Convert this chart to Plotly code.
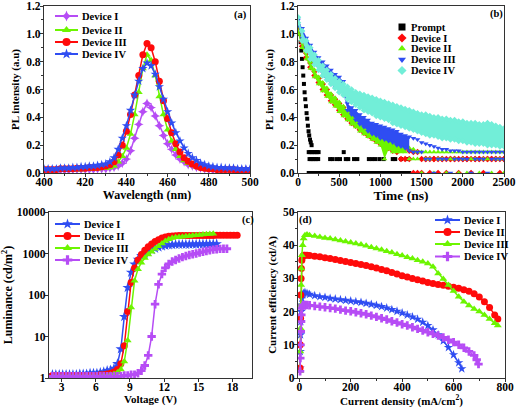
import plotly.graph_objects as go

# ---------------- data ----------------
# (a) PL spectra
wl = list(range(400, 501, 2))
pl_dev1 = [0.02,0.02,0.02,0.02,0.02,0.02,0.02,0.025,0.025,0.025,0.025,0.025,0.025,0.03,0.03,
           0.03,0.035,0.04,0.05,0.07,0.1,0.16,0.25,0.35,0.44,0.5,0.47,0.41,0.34,0.27,0.21,0.17,0.13,0.1,0.08,0.06,0.05,0.04,0.035,0.03,0.025,
           0.02,0.02,0.02,0.02,0.02,0.02,0.02,0.02,0.02,0.02]
pl_dev2 = [0.02,0.02,0.02,0.02,0.02,0.025,0.025,0.025,0.025,0.025,0.03,0.03,0.03,0.03,0.035,
           0.035,0.04,0.05,0.08,0.12,0.18,0.28,0.42,0.58,0.75,0.85,0.81,0.7,0.55,0.42,0.31,0.23,0.17,0.12,0.09,0.07,0.055,0.045,0.035,0.03,0.025,
           0.02,0.02,0.02,0.02,0.02,0.02,0.02,0.02,0.02,0.02]
pl_dev3 = [0.025,0.025,0.025,0.025,0.03,0.03,0.03,0.03,0.035,0.035,0.035,0.04,0.04,0.04,0.045,
           0.05,0.06,0.08,0.13,0.2,0.3,0.42,0.56,0.7,0.85,0.93,0.9,0.8,0.66,0.52,0.39,0.29,0.21,0.15,0.11,0.085,0.065,0.05,0.04,0.035,0.03,
           0.03,0.025,0.025,0.025,0.025,0.025,0.02,0.02,0.02,0.02]
pl_dev4 = [0.03,0.03,0.03,0.03,0.035,0.035,0.035,0.04,0.04,0.045,0.045,0.05,0.05,0.055,0.06,
           0.065,0.08,0.11,0.17,0.25,0.34,0.45,0.56,0.66,0.75,0.79,0.77,0.71,0.62,0.53,0.44,0.36,0.29,0.23,0.18,0.14,0.11,0.09,0.07,0.06,0.05,
           0.045,0.04,0.04,0.035,0.035,0.035,0.03,0.03,0.03,0.03]

# (b) PL decay
prompt_t = [24,32,40,48,56,64,72,80,88,96,104,112,120,128,136,146,155,165]
prompt_v = [1.0,0.94,0.88,0.82,0.76,0.7,0.64,0.58,0.53,0.48,0.43,0.39,0.34,0.3,0.27,0.24,0.22,0.2]
prompt_t15 = [130,150,170,190,210,230,250,555]
prompt_t10 = [140,160,180,200,220,245,390,420,470,510,580,610,680,720,860,900,940,990,1040,1150,1180,1250,1310]
prompt_t00 = list(range(130, 1351, 20))

t_dec = list(range(0, 2501, 50))
d1_hi = [1.04,0.94,0.86,0.79,0.73,0.68,0.64,0.6,0.56,0.53,0.5,0.47,0.44,0.42,0.4,0.38,0.36,0.34,0.32,0.3,
         0.29,0.27,0.25,0.2,0.2,0.19,0.18,0.16,0.15,0.15,0.1,0.1,0.1,0.1,0.1,0.1,0.1,0.1,0.1,0.1,
         0.1,0.1,0.1,0.1,0.1,0.1,0.1,0.1,0.1,0.1,0.1]
d1_lo = [1.01,0.91,0.83,0.76,0.7,0.65,0.6,0.56,0.52,0.49,0.45,0.42,0.39,0.36,0.34,0.31,0.29,0.27,0.25,0.23,
         0.21,0.19,0.18,0.16,0.15,0.1,0.1,0.1,0.0,0.0,0.0,0.1,0.0,0.1,0.0,0.1,0.0,0.1,0.1,0.0,
         0.1,0.1,0.0,0.1,0.1,0.0,0.1,0.1,0.1,0.0,0.1]
d2_hi = [1.05,0.95,0.87,0.8,0.74,0.69,0.65,0.61,0.57,0.54,0.51,0.48,0.45,0.43,0.41,0.39,0.37,0.35,0.33,0.31,
         0.3,0.28,0.26,0.25,0.23,0.22,0.2,0.18,0.17,0.15,0.15,0.15,0.15,0.15,0.15,0.15,0.15,0.15,0.15,0.15,
         0.15,0.15,0.15,0.15,0.15,0.15,0.15,0.15,0.15,0.15,0.15]
d2_lo = [1.0,0.9,0.82,0.75,0.69,0.64,0.59,0.55,0.51,0.48,0.44,0.41,0.38,0.35,0.33,0.3,0.28,0.26,0.24,0.22,
         0.2,0.1,0.17,0.15,0.15,0.15,0.15,0.1,0.1,0.1,0.0,0.1,0.1,0.0,0.1,0.1,0.0,0.1,0.1,0.0,
         0.1,0.0,0.1,0.1,0.0,0.1,0.1,0.0,0.1,0.1,0.0]
d3_hi = [1.1,1.04,0.97,0.92,0.87,0.83,0.8,0.77,0.74,0.71,0.69,0.66,0.5,0.47,0.45,0.42,0.4,0.38,0.36,0.35,
         0.34,0.33,0.32,0.31,0.3,0.28,0.27,0.26,0.25,0.24,0.22,0.21,0.2,0.19,0.18,0.17,0.17,0.16,0.16,0.16,
         0.15,0.15,0.15,0.15,0.15,0.15,0.15,0.15,0.15,0.15,0.15]
d3_lo = [1.06,0.97,0.9,0.85,0.8,0.76,0.72,0.68,0.65,0.62,0.6,0.58,0.45,0.42,0.38,0.35,0.33,0.3,0.28,0.27,
         0.25,0.24,0.23,0.22,0.2,0.19,0.18,0.16,0.15,0.15,0.15,0.1,0.1,0.0,0.1,0.1,0.1,0.0,0.1,0.1,
         0.1,0.1,0.0,0.1,0.1,0.1,0.0,0.1,0.1,0.1,0.1]
d4_hi = [1.12,1.02,0.95,0.9,0.85,0.81,0.77,0.74,0.71,0.68,0.66,0.64,0.62,0.6,0.58,0.57,0.56,0.55,0.54,0.53,
         0.52,0.51,0.5,0.49,0.48,0.47,0.46,0.45,0.44,0.43,0.42,0.42,0.41,0.4,0.4,0.39,0.39,0.38,0.38,0.37,
         0.37,0.36,0.36,0.36,0.35,0.35,0.36,0.35,0.34,0.33,0.32]
d4_lo = [1.08,0.95,0.88,0.82,0.78,0.74,0.7,0.67,0.64,0.61,0.58,0.56,0.53,0.51,0.49,0.47,0.45,0.44,0.43,0.41,
         0.4,0.39,0.38,0.36,0.35,0.34,0.33,0.32,0.31,0.3,0.29,0.28,0.27,0.27,0.26,0.25,0.25,0.24,0.24,0.23,
         0.23,0.22,0.22,0.21,0.21,0.21,0.2,0.2,0.2,0.19,0.19]

# (c) luminance vs voltage
volt = [2.2,2.5,2.8,3.1,3.4,3.7,4.0,4.3,4.6,4.9,5.2,5.5,5.8,6.1,6.4,6.7,7.0,7.3,7.6,7.9,8.2,8.5,8.8,9.1,9.4,9.7,
        10.0,10.3,10.6,10.9,11.2,11.5,11.8,12.1,12.4,12.7,13.0,13.3,13.6,13.9,14.2,14.5,14.8,15.1,15.4,15.7,16.0,
        16.3,16.6,16.9,17.2,17.5,17.8,18.1,18.4]
lum_dev1 = [1.2,1.2,1.2,1.2,1.2,1.2,1.2,1.2,1.25,1.25,1.25,1.3,1.3,
            1.3,1.35,1.4,1.5,1.55,1.7,2.2,5,30,150,350,550,720,880,1000,1120,1230,1330,1420,1500,1560,1600,1620,1640,
            1650,1650,1660,1660,1670,1670,1680,1680,1690,1690,1700,1700]
lum_dev2 = [1.15,1.15,1.15,1.15,1.15,1.15,1.15,1.15,1.15,1.15,1.15,1.15,1.15,
            1.15,1.2,1.2,1.25,1.3,1.4,1.6,2.2,6,40,200,450,700,950,1200,1450,1700,1950,2150,2350,2500,2600,2650,2680,
            2700,2700,2700,2710,2710,2720,2720,2720,2730,2730,2730,2740,2740,2740,2750,2750,2750,2750]
lum_dev3 = [1.1,1.1,1.1,1.1,1.1,1.1,1.1,1.1,1.1,1.1,1.1,1.1,1.1,
            1.1,1.1,1.15,1.15,1.2,1.25,1.35,1.6,2.5,8,50,220,420,600,780,950,1100,1300,1500,1750,2000,2200,2350,2450,
            2500,2550,2600,2650,2700,2750,2800,2850,2900,2950,3000]
lum_dev4 = [1.1,1.1,1.1,1.1,1.1,1.1,1.1,1.1,1.1,1.1,1.1,1.1,1.1,
            1.1,1.1,1.1,1.1,1.1,1.1,1.1,1.1,1.15,1.15,1.2,1.2,1.3,
            1.5,2,3.5,10,60,180,320,450,560,640,700,760,820,870,920,960,1000,1050,1100,1150,1200,1240,1270,1290,1300,1300]

# (d) current efficiency vs current density
j_start = [3,4,5,6,7,8,10,13,17,22,30]
j_body = list(range(40, 761, 20))
ce_dev3 = [2,8,15,22,28,33,37,40,42,43,43.2,
           43,42.8,42.5,42.2,42,41.7,41.4,41.1,40.8,40.5,40.2,39.8,39.4,39,38.6,38.2,37.8,37.3,36.9,36.4,
           36,35.5,35,34.5,33.5,31.5,29.8,28,26.2,24.5,23,21.8,20.8,20,19,17.8,16.5,15.8]
ce_dev2 = [3,10,18,25,30,33,35.5,36.5,37,37,37,
           36.9,36.7,36.5,36.2,36,35.7,35.4,35.1,34.8,34.5,34.2,33.9,33.5,33.1,32.7,32.3,31.8,31.3,30.8,30.4,
           30,29.6,29.2,28.8,28.5,28.2,27.9,27.6,27.3,27,26.6,26.1,25.4,24.4,23,21.2,19,17.8]
ce_dev1 = [3,8,13,17,20,22,24,25,25.5,25.8,25.5,
           25.2,24.8,24.5,24.3,24,23.8,23.6,23.4,23.2,23,22.8,22.5,22.2,21.9,21.5,21.1,20.6,20.1,19.6,19,
           18.4,17.7,16.8,15.8,14.5,13,11.2,9.2,7,4.6,2.8]
ce_dev4 = [2,6,10,14,17,19,21,21.8,22,22,22,
           21.9,21.7,21.5,21.3,21.1,20.9,20.6,20.3,20.1,19.8,19.5,19.2,18.8,18.4,18,17.6,17.1,16.7,16.2,15.8,
           15.3,14.8,14.3,13.8,13.3,12.8,12.2,11.5,10.8,10,9.1,8,6.8,5.5,4.2]
j_dev3 = j_start + j_body + [772]
j_dev2 = j_start + j_body + [772]
j_dev1 = j_start + j_body[:30] + [632]
j_dev4 = j_start + j_body[:33] + [690, 697]

names4 = ["Device I", "Device II", "Device III", "Device IV"]

# ---------------- style ----------------
VIO = "#B64CF5"
GRN = "#6CF500"
RED = "#FF0A0A"
BLU = "#2F4DF2"
CYA = "#72EED8"
BLK = "#000000"
FONT = "Liberation Serif"

def f(size, color="black"):
    return dict(family=FONT, size=size, color=color, weight="bold")

fig = go.Figure()

def add(x, y, ax, color, symbol, size, mode="lines+markers", lw=1.5):
    fig.add_trace(go.Scatter(x=x, y=y, mode=mode, xaxis="x" + ax, yaxis="y" + ax,
                             line=dict(color=color, width=lw),
                             marker=dict(color=color, symbol=symbol, size=size, line=dict(width=0)),
                             showlegend=False, hoverinfo="skip"))

# (a)
add(wl, pl_dev1, "", VIO, "star-diamond", 7)
add(wl, pl_dev2, "", GRN, "triangle-up", 7)
add(wl, pl_dev3, "", RED, "circle", 7)
add(wl, pl_dev4, "", BLU, "star", 7)

# (b)
def band(hi, lo, color, symbol, k):
    fig.add_trace(go.Scatter(x=t_dec[:k], y=hi[:k], mode="lines", line=dict(width=0, color=color),
                             xaxis="x2", yaxis="y2", showlegend=False, hoverinfo="skip"))
    fig.add_trace(go.Scatter(x=t_dec[:k], y=lo[:k], mode="lines", line=dict(width=0, color=color),
                             fill="tonexty", fillcolor=color, xaxis="x2", yaxis="y2",
                             showlegend=False, hoverinfo="skip"))
    add(t_dec + t_dec, hi + lo, "2", color, symbol, 5, mode="markers")

add(prompt_t, prompt_v, "2", BLK, "square", 4, mode="markers")
add(prompt_t15, [0.15] * len(prompt_t15), "2", BLK, "square", 4, mode="markers")
add(prompt_t10, [0.1] * len(prompt_t10), "2", BLK, "square", 4, mode="markers")
add(prompt_t00, [0.0] * len(prompt_t00), "2", BLK, "square", 4, mode="markers")
band(d1_hi, d1_lo, RED, "diamond", 23)
band(d2_hi, d2_lo, GRN, "triangle-up", 27)
band(d3_hi, d3_lo, BLU, "triangle-down", 28)
band(d4_hi, d4_lo, CYA, "diamond", 51)

# (c)
add(volt[:len(lum_dev1)], lum_dev1, "3", BLU, "star", 8)
add(volt[:len(lum_dev2)], lum_dev2, "3", RED, "circle", 7)
add(volt[:len(lum_dev3)], lum_dev3, "3", GRN, "triangle-up", 7)
add(volt[:len(lum_dev4)], lum_dev4, "3", VIO, "cross", 7)

# (d)
add(j_dev1, ce_dev1, "4", BLU, "star", 7)
add(j_dev2, ce_dev2, "4", RED, "circle", 7)
add(j_dev3, ce_dev3, "4", GRN, "triangle-up", 7)
add(j_dev4, ce_dev4, "4", VIO, "cross", 7)

# ---------------- custom compact legends (overlay pixel axis) ----------------
legend_specs = [
    (names4, [VIO, GRN, RED, BLU], ["star-diamond", "triangle-up", "circle", "star"], 55, 78, 80, [16, 30, 42, 54], True),
    (["Prompt"] + names4, [BLK, RED, GRN, BLU, CYA], ["square", "diamond", "triangle-up", "triangle-down", "diamond"],
     402, 402, 409, [27, 38, 48.5, 59.5, 70.5], False),
    (names4, [BLU, RED, GRN, VIO], ["star", "circle", "triangle-up", "cross"], 55, 80, 82, [224, 236, 248, 260], True),
    (names4, [BLU, RED, GRN, VIO], ["star", "circle", "triangle-up", "cross"], 435, 460, 462, [220, 232, 244, 256.5], True),
]
annotations = []
for nm, cols, syms, x0, x1, xt, ys, wline in legend_specs:
    for n, c, s, yy in zip(nm, cols, syms, ys):
        xm = (x0 + x1) / 2
        if wline:
            fig.add_trace(go.Scatter(x=[x0, x1], y=[yy, yy], mode="lines", line=dict(color=c, width=2),
                                     xaxis="x5", yaxis="y5", showlegend=False, hoverinfo="skip"))
        fig.add_trace(go.Scatter(x=[xm], y=[yy], mode="markers",
                                 marker=dict(color=c, symbol=s, size=8 if wline else 7, line=dict(width=0)),
                                 xaxis="x5", yaxis="y5", showlegend=False, hoverinfo="skip"))
        annotations.append(dict(x=xt, y=yy, xref="x5", yref="y5", text=n, showarrow=False,
                                xanchor="left", yanchor="middle", font=f(10.5)))

for lbl, xx, yy in [("(a)", 240, 15), ("(b)", 496, 14), ("(c)", 248, 220), ("(d)", 305, 220)]:
    annotations.append(dict(x=xx, y=yy, xref="x5", yref="y5", text=lbl, showarrow=False,
                            xanchor="center", yanchor="middle", font=f(10.5)))

W, H = 520, 410
def dx(a, b):
    return [a / W, b / W]
def dy(top, bot):
    return [1 - bot / H, 1 - top / H]

common = dict(showline=True, mirror=True, linecolor="#333333", linewidth=1.2, ticks="outside",
              ticklen=3, tickcolor="#333333", showgrid=False, zeroline=False, automargin=False)
xc = dict(common, ticklabelstandoff=-5)
yc = dict(common, ticklabelstandoff=-3)
pl_ticks = [0.0, 0.2, 0.4, 0.6, 0.8, 1.0, 1.2]
pl_ticktext = ["0.0", "0.2", "0.4", "0.6", "0.8", "1.0", "1.2"]
TF = 11.5

fig.update_layout(
    width=W, height=H, margin=dict(l=0, r=0, t=0, b=0),
    paper_bgcolor="white", plot_bgcolor="rgba(0,0,0,0)",
    showlegend=False,
    xaxis=dict(domain=dx(44, 250), range=[400, 500], dtick=20, tickfont=f(TF),
               minor=dict(ticks="outside", ticklen=2, dtick=10, tickcolor="#333333"),
               title=dict(text="Wavelength (nm)", font=f(12), standoff=0), anchor="y", **xc),
    yaxis=dict(domain=dy(6, 173), range=[0, 1.2], tickvals=pl_ticks, ticktext=pl_ticktext, tickfont=f(TF),
               minor=dict(ticks="outside", ticklen=2, tickvals=[0.1, 0.3, 0.5, 0.7, 0.9, 1.1], tickcolor="#333333"),
               title=dict(text="PL intensity (a.u)", font=f(11), standoff=4), anchor="x", **yc),
    xaxis2=dict(domain=dx(298, 504), range=[0, 2500], dtick=500, tickfont=f(TF),
                minor=dict(ticks="outside", ticklen=2, dtick=250, tickcolor="#333333"),
                title=dict(text="Time (ns)", font=f(13.5), standoff=0), anchor="y2", **xc),
    yaxis2=dict(domain=dy(6, 173), range=[0, 1.2], tickvals=pl_ticks, ticktext=pl_ticktext, tickfont=f(TF),
                minor=dict(ticks="outside", ticklen=2, tickvals=[0.1, 0.3, 0.5, 0.7, 0.9, 1.1], tickcolor="#333333"),
                title=dict(text="PL intensity (a.u)", font=f(11), standoff=4), anchor="x2", **yc),
    xaxis3=dict(domain=dx(49, 252), range=[1.9, 19.7], tickvals=[3, 6, 9, 12, 15, 18], tickfont=f(TF),
                title=dict(text="Voltage (V)", font=f(11), standoff=0), anchor="y3", **xc),
    yaxis3=dict(domain=dy(212, 378), type="log", range=[0, 4], tickvals=[1, 10, 100, 1000, 10000],
                ticktext=["1", "10", "100", "1000", "10000"], tickfont=f(TF),
                title=dict(text="Luminance (cd/m<sup>2</sup>)", font=f(12), standoff=4), anchor="x3", **yc),
    xaxis4=dict(domain=dx(298, 505), range=[-5, 800], tickvals=[0, 200, 400, 600, 800], tickfont=f(TF),
                minor=dict(ticks="outside", ticklen=2, tickvals=[100, 300, 500, 700], tickcolor="#333333"),
                title=dict(text="Current density (mA/cm<sup>2</sup>)", font=f(11), standoff=0), anchor="y4", **xc),
    yaxis4=dict(domain=dy(212, 378), range=[0, 50], tickvals=[0, 10, 20, 30, 40, 50], tickfont=f(TF),
                minor=dict(ticks="outside", ticklen=2, tickvals=[5, 15, 25, 35, 45], tickcolor="#333333"),
                title=dict(text="Current efficiency (cd/A)", font=f(11), standoff=4), anchor="x4", **yc),
    xaxis5=dict(domain=[0, 1], range=[0, W], visible=False, fixedrange=True, anchor="y5"),
    yaxis5=dict(domain=[0, 1], range=[H, 0], visible=False, fixedrange=True, anchor="x5"),
    annotations=annotations,
)

fig.write_html("out.html", config={"displayModeBar": False},
               post_script="document.body.style.margin='0';document.body.style.overflow='hidden';")
